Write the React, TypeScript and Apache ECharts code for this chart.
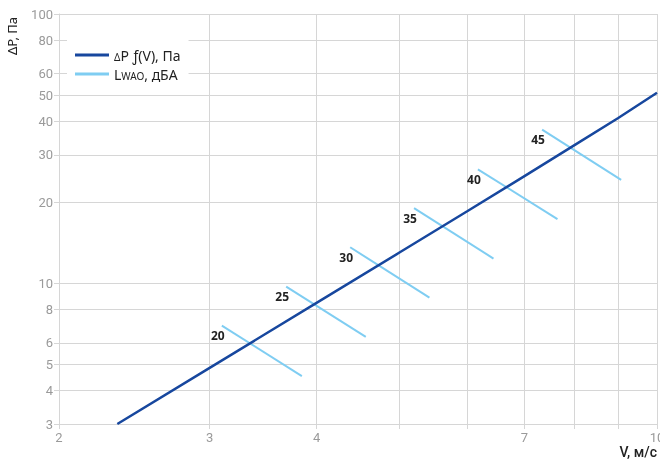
import React, { useEffect, useRef } from "react";
import * as echarts from "echarts";

const X_TICKS = [2, 3, 4, 5, 6, 7, 8, 9, 10];
const X_LABELS = [2, 3, 4, 7, 10];
const Y_TICKS = [3, 4, 5, 6, 8, 10, 20, 30, 40, 50, 60, 80, 100];

const V = [2.34, 3, 4, 5, 6, 7, 8, 9, 10];
const DP = [3, 4.85, 8.45, 13, 18.5, 25, 32.5, 41, 51];

const LW_LEVELS = [20, 25, 30, 35, 40, 45];
const LW_V_START = [3.1, 3.686, 4.379, 5.2, 6.175, 7.34];
const LW_P_START = [6.96, 9.71, 13.6, 19.0, 26.5, 37.2];
const LW_V_END = [3.845, 4.567, 5.42, 6.44, 7.65, 9.08];
const LW_P_END = [4.52, 6.32, 8.84, 12.35, 17.3, 24.2];

const DARK = "#17479e";
const LIGHT = "#7fcdf2";
const GRID = "#d6d6d6";
const LABEL = "#9a9a9a";
const FONT = "Roboto, 'Noto Sans', sans-serif";
const TFONT = "'Noto Sans', sans-serif";

export default function App() {
  const ref = useRef<HTMLDivElement>(null);
  useEffect(() => {
    if (!ref.current) return;
    const chart = echarts.init(ref.current, undefined, { renderer: "svg" });
    const lwSeries = LW_LEVELS.map((lvl, i) => ({
      name: "Lwao",
      type: "line",
      symbol: "circle",
      symbolSize: 0,
      showSymbol: true,
      lineStyle: { color: LIGHT, width: 2 },
      itemStyle: { color: LIGHT },
      z: 2,
      data: [
        {
          value: [LW_V_START[i], LW_P_START[i]],
          label: {
            show: true,
            formatter: String(lvl),
            position: "bottom",
            distance: 4,
            offset: [-4, 0],
            color: "#222",
            fontWeight: "bold",
            fontSize: 12,
            fontFamily: TFONT,
          },
        },
        { value: [LW_V_END[i], LW_P_END[i]] },
      ],
    }));
    chart.setOption({
      animation: false,
      grid: { left: 59, right: 3, top: 14, bottom: 39, containLabel: false, outerBoundsMode: "none" },
      legend: {
        data: ["dp", "Lwao"],
        orient: "vertical",
        left: 67,
        top: 40,
        backgroundColor: "#fff",
        padding: [8, 8, 8, 8],
        itemGap: 5,
        itemWidth: 34,
        itemHeight: 3,
        itemTextGap: 7,
        icon: "rect",
        formatter: (n: string) =>
          n === "dp" ? "{d|Δ}{n|P ƒ(V), Па}" : "{n|L}{s|WAO}{n|, дБА}",
        textStyle: {
          color: "#222",
          fontSize: 14,
          fontFamily: TFONT,
          rich: {
            n: { fontSize: 14, color: "#222", fontFamily: TFONT, verticalAlign: "bottom" },
            d: { fontSize: 10, color: "#222", fontFamily: TFONT, verticalAlign: "bottom" },
            s: { fontSize: 10, color: "#222", fontFamily: TFONT, verticalAlign: "bottom" },
          },
        },
      },
      xAxis: {
        type: "log",
        logBase: 10,
        min: 2,
        max: 10,
        axisLine: { show: true, lineStyle: { color: GRID } },
        axisTick: { show: true, length: 5, customValues: X_TICKS, lineStyle: { color: GRID } },
        axisLabel: {
          customValues: X_LABELS,
          color: LABEL,
          fontSize: 13,
          fontFamily: FONT,
          margin: 7,
          formatter: (v: number) => String(Math.round(v)),
        },
        splitLine: { show: true, lineStyle: { color: GRID, width: 1 } },
        minorSplitLine: { show: false },
      },
      yAxis: {
        type: "log",
        logBase: 10,
        min: 3,
        max: 100,
        axisLine: { show: true, lineStyle: { color: GRID } },
        axisTick: { show: true, length: 5, customValues: Y_TICKS, lineStyle: { color: GRID } },
        axisLabel: {
          customValues: Y_TICKS,
          color: LABEL,
          fontSize: 13,
          fontFamily: FONT,
          margin: 6,
          formatter: (v: number) => String(Math.round(v)),
        },
        splitLine: { show: true, lineStyle: { color: GRID, width: 1 } },
      },
      graphic: [
        {
          type: "text",
          x: 12,
          y: 36,
          rotation: Math.PI / 2,
          style: {
            text: "ΔP, Па",
            fill: "#222",
            font: "13px 'Noto Sans', sans-serif",
            align: "center",
            verticalAlign: "middle",
          },
        },
        {
          type: "text",
          x: 657,
          y: 452,
          style: {
            text: "V, м/с",
            fill: "#222",
            font: "500 14px Roboto, sans-serif",
            align: "right",
            verticalAlign: "middle",
          },
        },
      ],
      series: [
        {
          name: "dp",
          type: "line",
          showSymbol: false,
          symbol: "none",
          lineStyle: { color: DARK, width: 2.5 },
          itemStyle: { color: DARK },
          z: 3,
          data: V.map((v, i) => [v, DP[i]]),
        },
        ...lwSeries,
      ],
    });
    return () => chart.dispose();
  }, []);
  return (
    <div
      ref={ref}
      style={{ position: "fixed", left: 0, top: 0, width: 660, height: 463 }}
    />
  );
}
